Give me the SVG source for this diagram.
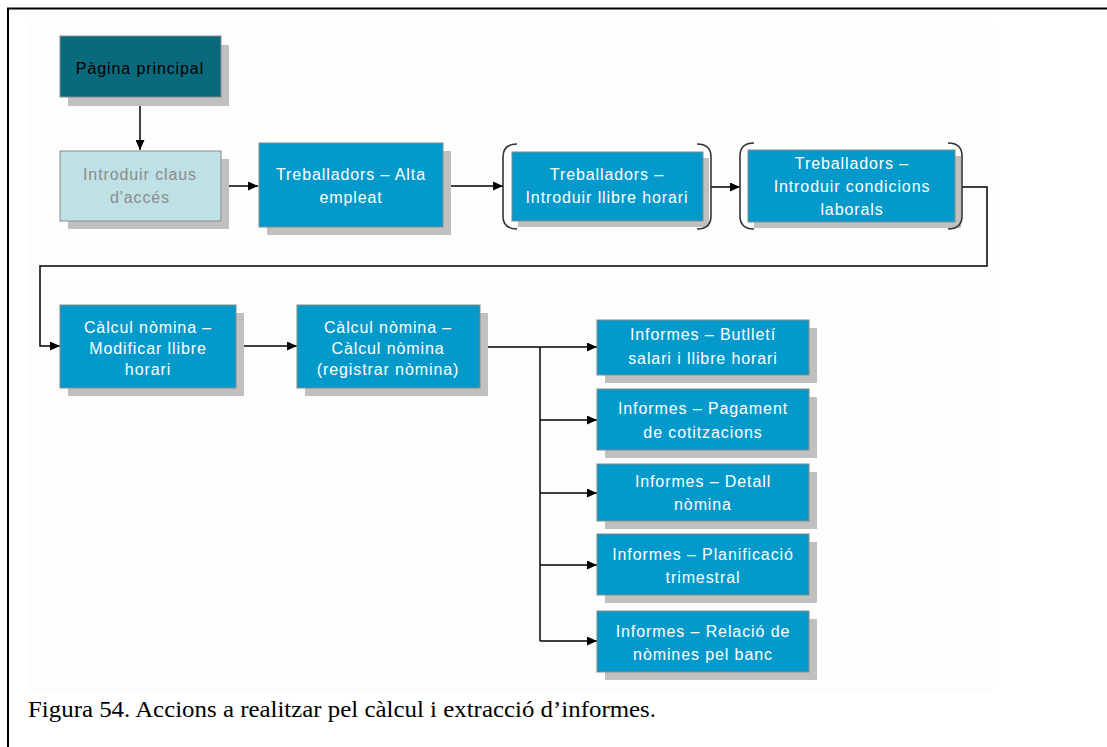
<svg xmlns="http://www.w3.org/2000/svg" width="1107" height="747" viewBox="0 0 1107 747">
<defs>
<style>
.sh{fill:#c0c0c0}
.bx{fill:#0399cb;stroke:#8a8a8a;stroke-width:1}
.t{font-family:"Liberation Sans",Arial,sans-serif;font-size:16px;fill:#ffffff;text-anchor:middle;letter-spacing:0.9px}
.ln{fill:none;stroke:#000;stroke-width:1.5}
.br{fill:none;stroke:#333;stroke-width:1.6}
</style>
<marker id="ah" markerWidth="10" markerHeight="9" refX="10" refY="4.5" orient="auto" markerUnits="userSpaceOnUse">
<path d="M0,0 L10,4.5 L0,9 z" fill="#000"/>
</marker>
</defs>
<rect x="0" y="0" width="1107" height="747" fill="#ffffff"/>
<rect x="28" y="18" width="965" height="674" fill="#fdfdfd"/>
<path d="M8,747 L8,8.5 L1107,8.5" fill="none" stroke="#000" stroke-width="2"/>

<g id="connectors">
<path class="ln" d="M140,97 L140,150" marker-end="url(#ah)"/>
<path class="ln" d="M221,186 L258,186" marker-end="url(#ah)"/>
<path class="ln" d="M443,186 L503,186" marker-end="url(#ah)"/>
<path class="ln" d="M711,187 L740,187" marker-end="url(#ah)"/>
<path class="ln" d="M962,187 L987,187 L987,266 L40,266 L40,346 L60,346" marker-end="url(#ah)"/>
<path class="ln" d="M236,346 L297,346" marker-end="url(#ah)"/>
<path class="ln" d="M480,347 L597,347" marker-end="url(#ah)"/>
<path class="ln" d="M540,347 L540,641"/>
<path class="ln" d="M540,420 L597,420" marker-end="url(#ah)"/>
<path class="ln" d="M540,493 L597,493" marker-end="url(#ah)"/>
<path class="ln" d="M540,565 L597,565" marker-end="url(#ah)"/>
<path class="ln" d="M540,641 L597,641" marker-end="url(#ah)"/>
</g>

<g id="pagina-principal">
<rect class="sh" x="68" y="45" width="161" height="61"/>
<rect x="60" y="36" width="161" height="61" fill="#0a6a7d" stroke="#8a8a8a" stroke-width="1"/>
<text class="t" x="140" y="74" style="fill:#000">Pàgina principal</text>
</g>

<g id="introduir-claus">
<rect class="sh" x="68" y="159" width="161" height="70"/>
<rect x="60" y="151" width="161" height="70" fill="#bde1e5" stroke="#8a8a8a" stroke-width="1"/>
<text class="t" x="140" y="180" style="fill:#8c8c8c">Introduir claus</text>
<text class="t" x="140" y="203" style="fill:#8c8c8c">d'accés</text>
</g>

<g id="alta-empleat">
<rect class="sh" x="267" y="151" width="184" height="84"/>
<rect class="bx" x="259" y="143" width="184" height="84"/>
<text class="t" x="351" y="180">Treballadors – Alta</text>
<text class="t" x="351" y="203">empleat</text>
</g>

<g id="llibre-horari">
<rect class="sh" x="518" y="158" width="191" height="69"/>
<rect class="bx" x="512" y="152" width="191" height="69"/>
<path class="br" d="M517,144 Q503,144 503,157 L503,216 Q503,229 517,229"/>
<path class="br" d="M697,144 Q711,144 711,157 L711,216 Q711,229 697,229"/>
<text class="t" x="607" y="180">Treballadors –</text>
<text class="t" x="607" y="203">Introduir llibre horari</text>
</g>

<g id="condicions-laborals">
<rect class="sh" x="754" y="156" width="207" height="72"/>
<rect class="bx" x="748" y="150" width="207" height="72"/>
<path class="br" d="M754,143 Q740,143 740,156 L740,216 Q740,229 754,229"/>
<path class="br" d="M948,143 Q962,143 962,156 L962,216 Q962,229 948,229"/>
<text class="t" x="852" y="169">Treballadors –</text>
<text class="t" x="852" y="192">Introduir condicions</text>
<text class="t" x="852" y="215">laborals</text>
</g>

<g id="modificar-llibre">
<rect class="sh" x="68" y="313" width="176" height="83"/>
<rect class="bx" x="60" y="305" width="176" height="83"/>
<text class="t" x="148" y="333">Càlcul nòmina –</text>
<text class="t" x="148" y="354">Modificar llibre</text>
<text class="t" x="148" y="375">horari</text>
</g>

<g id="calcul-nomina">
<rect class="sh" x="305" y="313" width="183" height="83"/>
<rect class="bx" x="297" y="305" width="183" height="83"/>
<text class="t" x="388" y="333">Càlcul nòmina –</text>
<text class="t" x="388" y="354">Càlcul nòmina</text>
<text class="t" x="388" y="375">(registrar nòmina)</text>
</g>

<g id="butlleti">
<rect class="sh" x="605" y="328" width="212" height="55"/>
<rect class="bx" x="597" y="320" width="212" height="55"/>
<text class="t" x="703" y="340">Informes – Butlletí</text>
<text class="t" x="703" y="364">salari i llibre horari</text>
</g>

<g id="cotitzacions">
<rect class="sh" x="605" y="397" width="212" height="61"/>
<rect class="bx" x="597" y="389" width="212" height="61"/>
<text class="t" x="703" y="414">Informes – Pagament</text>
<text class="t" x="703" y="438">de cotitzacions</text>
</g>

<g id="detall-nomina">
<rect class="sh" x="605" y="472" width="212" height="57"/>
<rect class="bx" x="597" y="464" width="212" height="57"/>
<text class="t" x="703" y="487">Informes – Detall</text>
<text class="t" x="703" y="510">nòmina</text>
</g>

<g id="planificacio">
<rect class="sh" x="605" y="542" width="212" height="61"/>
<rect class="bx" x="597" y="534" width="212" height="61"/>
<text class="t" x="703" y="560">Informes – Planificació</text>
<text class="t" x="703" y="583">trimestral</text>
</g>

<g id="relacio-banc">
<rect class="sh" x="605" y="619" width="212" height="61"/>
<rect class="bx" x="597" y="611" width="212" height="61"/>
<text class="t" x="703" y="637">Informes – Relació de</text>
<text class="t" x="703" y="660">nòmines pel banc</text>
</g>

<text x="28" y="717" font-family="'Liberation Serif','Times New Roman',serif" font-size="23" fill="#000" textLength="628" lengthAdjust="spacingAndGlyphs">Figura 54. Accions a realitzar pel càlcul i extracció d’informes.</text>
</svg>
